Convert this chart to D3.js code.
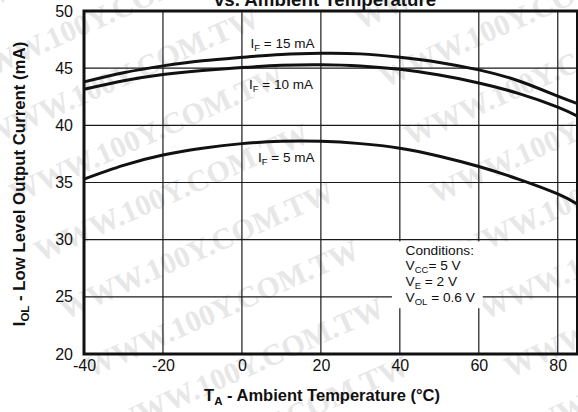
<!DOCTYPE html>
<html>
<head>
<meta charset="utf-8">
<script src="https://cdn.jsdelivr.net/npm/d3@7/dist/d3.min.js"></script>
<style>
  html, body { margin: 0; padding: 0; background: #fff; }
  svg { display: block; font-family: "Liberation Sans", Arial, Helvetica, sans-serif; }
</style>
</head>
<body>
<svg id="chart" width="578" height="412"></svg>
<script>
// Ambient temperature (°C) at which each curve is sampled
const temps = [-40, -30, -20, -10, 0, 10, 20, 30, 40, 50, 60, 70, 80, 85];
// Low level output current (mA) for each forward current
const iol15 = [43.8, 44.6, 45.2, 45.65, 45.95, 46.2, 46.3, 46.25, 45.95, 45.5, 44.85, 43.9, 42.55, 41.9];
const iol10 = [43.15, 43.9, 44.45, 44.8, 45.05, 45.25, 45.3, 45.2, 44.9, 44.4, 43.7, 42.8, 41.6, 40.8];
const iol5  = [35.3, 36.5, 37.4, 38.0, 38.4, 38.6, 38.6, 38.4, 38.0, 37.3, 36.4, 35.3, 34.0, 33.1];
const seriesNames = ["15", "10", "5"];
// Tick values
const xTicks = [-40, -20, 0, 20, 40, 60, 80];
const yTicks = [20, 25, 30, 35, 40, 45, 50];
const conditions = [["Conditions:", null, ""], ["V", "CC", "= 5 V"], ["V", "E", " = 2 V"], ["V", "OL", " = 0.6 V"]];

const svg = d3.select("#chart");
const plotL = 84, plotR = 577.5, plotT = 11, plotB = 354;
const x = d3.scaleLinear().domain([-40, 85]).range([plotL, plotR]);
const y = d3.scaleLinear().domain([20, 50]).range([plotB, plotT]);

// faint repeated watermark text
const wm = svg.append("g").attr("fill", "#e7e7e7")
  .attr("font-family", "'Liberation Serif', 'Times New Roman', serif")
  .attr("font-weight", "bold").attr("font-size", 30);
for (let r = -4; r < 12; r++) {
  for (let c = -1; c < 3; c++) {
    const px = -60 + c * 420 + r * 25;
    const py = 30 + r * 58;
    wm.append("text")
      .attr("transform", `translate(${px},${py}) rotate(-24)`)
      .text("WWW.100Y.COM.TW");
  }
}

// title (partly above the top edge)
svg.append("text").attr("x", 325).attr("y", 5.5)
  .attr("text-anchor", "middle").attr("font-weight", "bold").attr("font-size", 18.7)
  .attr("fill", "#111").text("vs. Ambient Temperature");

// grid
const gridG = svg.append("g");
xTicks.slice(1).forEach(t => {
  gridG.append("line")
    .attr("x1", x(t)).attr("x2", x(t)).attr("y1", plotT).attr("y2", plotB)
    .attr("stroke", "#1a1a1a").attr("stroke-width", 1.2);
});
yTicks.slice(1, -1).forEach(t => {
  gridG.append("line")
    .attr("x1", plotL).attr("x2", plotR).attr("y1", y(t)).attr("y2", y(t))
    .attr("stroke", "#1a1a1a").attr("stroke-width", 1.2);
});

// white panel behind the conditions note
svg.append("rect").attr("x", x(38.0)).attr("y", y(29.85))
  .attr("width", x(61.0) - x(38.0)).attr("height", y(24.0) - y(29.85)).attr("fill", "#fff");

// curves
const lineGen = d3.line().x((d, i) => x(temps[i])).y(d => y(d)).curve(d3.curveNatural);
const curves = [iol15, iol10, iol5];
curves.forEach(c => {
  svg.append("path").attr("d", lineGen(c)).attr("fill", "none")
    .attr("stroke", "#111").attr("stroke-width", 3);
});

// frame
svg.append("rect").attr("x", plotL).attr("y", plotT).attr("width", plotR - plotL).attr("height", plotB - plotT)
  .attr("fill", "none").attr("stroke", "#111").attr("stroke-width", 3);

// axes tick labels
const yAxis = svg.append("g").attr("transform", `translate(${plotL},0)`)
  .call(d3.axisLeft(y).tickValues(yTicks).tickSize(0).tickPadding(11));
const xAxis = svg.append("g").attr("transform", `translate(0,${plotB})`)
  .call(d3.axisBottom(x).tickValues(xTicks).tickSize(0).tickPadding(6).tickFormat(d3.format("d")));
[yAxis, xAxis].forEach(a => {
  a.select(".domain").remove();
  a.selectAll("text").attr("font-size", 16).attr("fill", "#111")
    .attr("font-family", "'Liberation Sans', Arial, sans-serif");
});
xAxis.selectAll("text").text(d => d < 0 ? "-" + Math.abs(d) : d);

// curve labels
const labelPos = [[250.5, 47.5], [249, 89], [258, 162]];
const labels = svg.append("g").attr("font-size", 13.5).attr("fill", "#111");
seriesNames.forEach((s, i) => {
  const t = labels.append("text").attr("x", labelPos[i][0]).attr("y", labelPos[i][1]);
  t.append("tspan").text("I");
  t.append("tspan").attr("font-size", 9.5).attr("dy", 3).text("F");
  t.append("tspan").attr("dy", -3).text(" = " + s + " mA");
});

// conditions note
const cond = svg.append("g").attr("font-size", 13.7).attr("fill", "#111");
conditions.forEach((c, i) => {
  const t = cond.append("text").attr("x", 405.5).attr("y", 254.5 + i * 15.8);
  t.append("tspan").text(c[0]);
  if (c[1]) {
    t.append("tspan").attr("font-size", 9.5).attr("dy", 3).text(c[1]);
    t.append("tspan").attr("dy", -3).text(c[2]);
  }
});

// axis titles
const xt = svg.append("text").attr("x", 322).attr("y", 401)
  .attr("text-anchor", "middle").attr("font-weight", "bold").attr("font-size", 16.5).attr("fill", "#111");
xt.append("tspan").text("T");
xt.append("tspan").attr("font-size", 11.5).attr("dy", 3.5).text("A");
xt.append("tspan").attr("dy", -3.5).text(" - Ambient Temperature (°C)");

const yt = svg.append("text").attr("transform", "translate(25,184) rotate(-90)")
  .attr("text-anchor", "middle").attr("font-weight", "bold").attr("font-size", 16.8).attr("fill", "#111");
yt.append("tspan").text("I");
yt.append("tspan").attr("font-size", 11.5).attr("dy", 3.5).text("OL");
yt.append("tspan").attr("dy", -3.5).text(" - Low Level Output Current (mA)");
</script>
</body>
</html>
